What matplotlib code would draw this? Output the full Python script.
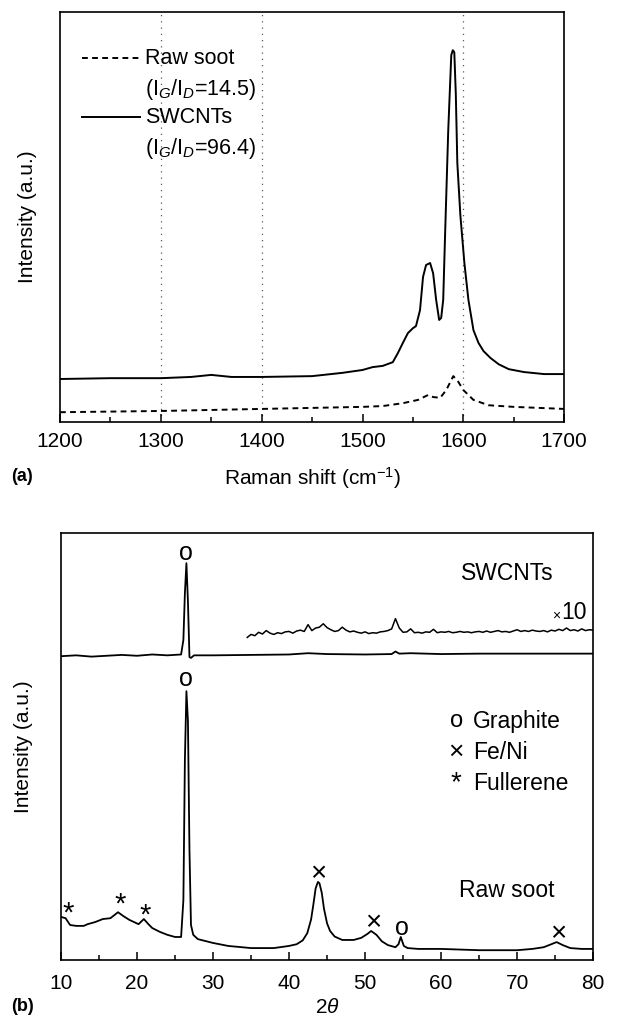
import numpy as np
import matplotlib
matplotlib.use('Agg')
import matplotlib.pyplot as plt
from matplotlib.ticker import MultipleLocator

plt.rcParams['font.family'] = ['Liberation Sans', 'DejaVu Sans']
plt.rcParams['mathtext.fontset'] = 'custom'
plt.rcParams['mathtext.rm'] = 'Liberation Sans'
plt.rcParams['mathtext.it'] = 'Liberation Sans:italic'

# (a) Raman spectra
raman_soot_x = [1200, 1300, 1400, 1500, 1520, 1540, 1555, 1565, 1570, 1577,
                1583, 1590, 1595, 1600, 1610, 1625, 1650, 1700]
raman_soot_y = [2.4, 2.7, 3.2, 3.7, 3.9, 4.6, 5.4, 6.6, 6.1, 5.9,
                7.8, 11.2, 9.8, 7.8, 5.4, 4.1, 3.7, 3.2]

raman_cnt_x = [1200, 1250, 1300, 1330, 1350, 1370, 1400, 1450, 1480, 1500,
               1510, 1520, 1530, 1535, 1540, 1545, 1550, 1553, 1557, 1560,
               1563, 1567, 1570, 1573, 1576, 1578, 1580, 1582, 1585, 1588,
               1589.5, 1591, 1592.5, 1594, 1597, 1601, 1605, 1610, 1615, 1620,
               1627, 1635, 1645, 1660, 1680, 1700]
raman_cnt_y = [10.5, 10.7, 10.7, 11.0, 11.5, 11.0, 11.0, 11.2, 12.0, 12.7,
               13.4, 13.7, 14.6, 16.8, 19.3, 21.7, 22.9, 23.4, 27.3, 35.4,
               38.3, 38.8, 36.3, 29.8, 24.9, 25.4, 29.8, 46.8, 71.2, 89.5,
               90.7, 90.2, 80.0, 63.2, 50.5, 38.8, 29.8, 22.4, 19.3, 17.3,
               15.6, 14.1, 12.9, 12.2, 11.7, 11.7]

# (b) XRD patterns
xrd_soot_x = [10, 10.6, 11.2, 12, 13, 13.5, 14.5, 15.5, 16.5, 17.5,
              18.2, 19, 20.2, 20.9, 21.5, 22, 23, 24, 25, 25.8,
              26.1, 26.3, 26.5, 26.7, 26.9, 27.1, 27.4, 28, 30, 32,
              35, 38, 40, 41, 41.8, 42.4, 42.9, 43.2, 43.5, 43.8,
              44.0, 44.3, 44.6, 45.0, 45.4, 46, 47, 48.5, 49.5, 50.3,
              50.8, 51.5, 52.2, 53, 54, 54.4, 54.7, 55.1, 55.6, 57,
              60, 65, 70, 72, 73.5, 74.5, 75.2, 76, 77, 78.5, 80]
xrd_soot_y = [10.1, 9.8, 8.2, 8.0, 8.0, 8.4, 8.9, 9.6, 9.8, 11.2,
              10.3, 9.4, 8.4, 9.6, 8.4, 7.5, 6.6, 5.9, 5.4, 5.4,
              14.0, 47.0, 63.0, 56.0, 25.8, 8.2, 5.9, 4.9, 4.0, 3.3,
              2.8, 2.8, 3.3, 3.7, 4.6, 6.3, 9.5, 13.0, 16.8, 18.3,
              18.0, 15.8, 12.0, 8.6, 6.8, 5.5, 4.7, 4.7, 5.2, 6.1,
              6.8, 5.9, 4.4, 3.5, 3.0, 3.7, 5.4, 3.3, 2.8, 2.6,
              2.6, 2.3, 2.3, 2.6, 3.0, 3.7, 4.2, 3.5, 2.8, 2.6, 2.6]

xrd_cnt_x = [10, 12, 14, 16, 18, 20, 22, 24, 25.8, 26.1,
             26.3, 26.5, 26.7, 26.9, 27.1, 27.5, 30, 35, 40, 42.5,
             45, 50, 53.5, 54, 54.5, 56, 60, 65, 70, 75, 80]
xrd_cnt_y = [71.2, 71.4, 71.1, 71.3, 71.5, 71.3, 71.6, 71.4, 71.6, 75.0,
             86.0, 93.0, 84.0, 71.0, 70.8, 71.4, 71.4, 71.5, 71.6, 71.9,
             71.7, 71.6, 71.7, 72.3, 71.8, 71.9, 71.7, 71.8, 71.8, 71.8, 71.8]

# SWCNTs pattern magnified x10 (from 34.5 deg on)
xrd_x10_x = [34.5, 35, 35.5, 36, 36.5, 37, 37.5, 38, 38.5, 39, 39.5, 40,
             40.5, 41, 41.5, 42, 42.5, 43, 43.5, 44, 44.5, 45, 45.5, 46,
             46.5, 47, 47.5, 48, 48.5, 49, 49.5, 50, 50.5, 51, 51.5, 52,
             52.5, 53, 53.5, 54, 54.5, 55, 55.5, 56, 56.5, 57, 57.5, 58,
             58.5, 59, 59.5, 60, 60.5, 61, 61.5, 62, 62.5, 63, 63.5, 64,
             64.5, 65, 65.5, 66, 66.5, 67, 67.5, 68, 68.5, 69, 69.5, 70,
             70.5, 71, 71.5, 72, 72.5, 73, 73.5, 74, 74.5, 75, 75.5, 76,
             76.5, 77, 77.5, 78, 78.5, 79, 79.5, 80]
xrd_x10_y = [75.6, 76.3, 76.0, 76.8, 76.4, 77.2, 76.6, 76.3, 76.7, 76.5, 76.9, 77.0,
             76.6, 77.1, 77.3, 77.0, 78.6, 77.2, 77.8, 78.0, 78.8, 77.9, 77.4, 77.0,
             77.2, 78.0, 77.3, 76.9, 77.1, 76.8, 76.6, 76.9, 76.5, 76.7, 76.6, 76.9,
             77.0, 77.2, 77.6, 80.0, 77.8, 76.8, 76.9, 77.6, 76.7, 76.8, 76.6, 76.9,
             76.8, 77.5, 76.7, 76.9, 76.8, 77.0, 76.7, 76.8, 77.0, 76.8, 76.9, 76.7,
             76.9, 77.0, 76.8, 77.1, 76.8, 77.0, 77.2, 76.9, 77.0, 76.8, 77.1, 77.4,
             77.0, 77.2, 77.0, 77.3, 77.1, 77.0, 77.2, 76.9, 77.3, 77.1, 77.5, 77.2,
             77.8, 77.2, 77.4, 77.1, 77.6, 77.2, 77.4, 77.3]

# peak markers: (2theta, height, symbol)
peak_x = [26.5, 26.5, 11.0, 17.8, 21.1, 43.9, 51.1, 54.9, 75.4]
peak_y = [95.5, 65.8, 11.0, 13.0, 10.5, 20.2, 8.7, 7.6, 6.1]
peak_sym = ['o', 'o', '*', '*', '*', u'\u00d7', u'\u00d7', 'o', u'\u00d7']

legend_sym = ['o', u'\u00d7', '*']
legend_txt = ['Graphite', 'Fe/Ni', 'Fullerene']

sym_size = {'o': 18, '*': 21, u'\u00d7': 20}


def style_axes(ax, pad):
    for s in ax.spines.values():
        s.set_linewidth(1.2)
    ax.set_yticks([])
    ax.tick_params(axis='x', which='both', direction='in', top=False,
                   labelsize=15, pad=pad, width=1.1)
    ax.tick_params(axis='x', which='major', length=6)
    ax.tick_params(axis='x', which='minor', length=3.5)


fig = plt.figure(figsize=(6.18, 10.16), dpi=100)

# ---- (a) Raman ----
ax1 = fig.add_axes([0.097, 0.5846, 0.816, 0.4035])
for g in [1300, 1400, 1600]:
    ax1.axvline(g, color='0.35', lw=0.9, ls=(0, (1, 4)), zorder=0)
ax1.plot(raman_soot_x, raman_soot_y, color='black', lw=1.4, ls=(0, (3, 2.2)))
ax1.plot(raman_cnt_x, raman_cnt_y, color='black', lw=1.4)
ax1.set_xlim(1200, 1700)
ax1.set_ylim(0, 100)
ax1.xaxis.set_major_locator(MultipleLocator(100))
ax1.xaxis.set_minor_locator(MultipleLocator(50))
style_axes(ax1, 7)
ax1.set_xlabel('Raman shift (cm$^{\\mathregular{-1}}$)', fontsize=15, labelpad=10)
ax1.set_ylabel('Intensity (a.u.)', fontsize=15)
ax1.yaxis.set_label_coords(-0.045, 0.5)

# legend drawn by hand so the line sits on the first text row
tr = ax1.transAxes
ax1.plot([0.044, 0.159], [0.887, 0.887], transform=tr, color='black', lw=1.4,
         ls=(0, (3, 2.2)))
ax1.plot([0.044, 0.159], [0.743, 0.743], transform=tr, color='black', lw=1.4)
ax1.text(0.168, 0.887, 'Raw soot', transform=tr, fontsize=15.5, va='center')
ax1.text(0.168, 0.812, '(I$_G$/I$_D$=14.5)', transform=tr, fontsize=15.5, va='center')
ax1.text(0.168, 0.743, 'SWCNTs', transform=tr, fontsize=15.5, va='center')
ax1.text(0.168, 0.668, '(I$_G$/I$_D$=96.4)', transform=tr, fontsize=15.5, va='center')
fig.text(0.018, 0.531, '(a)', fontsize=13, fontweight='bold', va='center')

# ---- (b) XRD ----
ax2 = fig.add_axes([0.0987, 0.0551, 0.861, 0.420])
ax2.plot(xrd_soot_x, xrd_soot_y, color='black', lw=1.3)
ax2.plot(xrd_cnt_x, xrd_cnt_y, color='black', lw=1.3)
ax2.plot(xrd_x10_x, xrd_x10_y, color='black', lw=1.1)
ax2.set_xlim(10, 80)
ax2.set_ylim(0, 100)
ax2.xaxis.set_major_locator(MultipleLocator(10))
ax2.xaxis.set_minor_locator(MultipleLocator(5))
style_axes(ax2, 10)
ax2.set_xlabel(r'2$\theta$', fontsize=15, labelpad=4)
ax2.set_ylabel('Intensity (a.u.)', fontsize=15)
ax2.yaxis.set_label_coords(-0.053, 0.5)

for px, py, s in zip(peak_x, peak_y, peak_sym):
    ax2.text(px, py, s, fontsize=sym_size[s], ha='center', va='center')

tr2 = ax2.transAxes
ax2.text(0.838, 0.906, 'SWCNTs', transform=tr2, fontsize=16.5, ha='center', va='center')
ax2.text(0.940, 0.815, '10', transform=tr2, fontsize=16.5, ha='left', va='center')
ax2.text(0.938, 0.808, u'\u00d7', transform=tr2, fontsize=10, ha='right', va='center')
ax2.text(0.838, 0.162, 'Raw soot', transform=tr2, fontsize=16.5, ha='center', va='center')
for i, (s, t) in enumerate(zip(legend_sym, legend_txt)):
    yy = 0.560 - i * 0.073
    ax2.text(0.743, yy, s, transform=tr2, fontsize=sym_size[s] - 1,
             ha='center', va='center')
    ax2.text(0.775, yy, t, transform=tr2, fontsize=16.5, va='center')
fig.text(0.018, 0.009, '(b)', fontsize=13, fontweight='bold', va='center')

fig.savefig('out.png', dpi=100)
